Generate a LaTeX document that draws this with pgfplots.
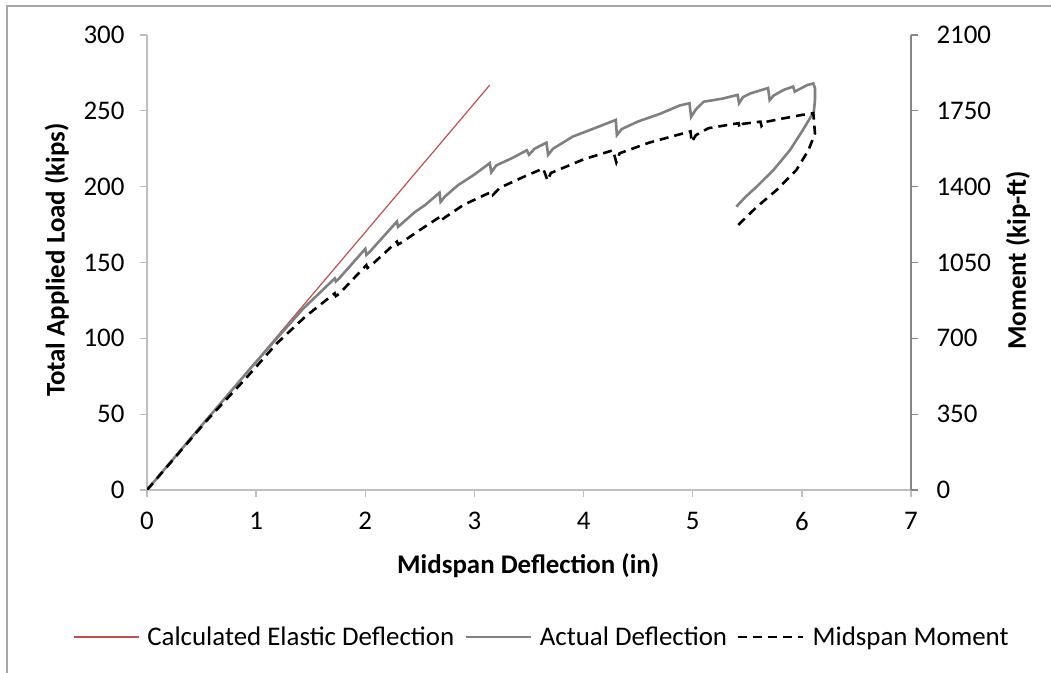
\documentclass[border=0pt]{standalone}
\usepackage{fontspec}
\setmainfont{Carlito}
\usepackage{pgfplots}
\pgfplotsset{compat=1.18}
\definecolor{redline}{HTML}{C0504D}
\definecolor{grayline}{HTML}{808080}
\definecolor{axgray}{HTML}{BFBFBF}
\definecolor{raxgray}{HTML}{868686}
\definecolor{framegray}{HTML}{A6A6A6}
\begin{document}
\begin{tikzpicture}[x=1bp,y=1bp]
\path[use as bounding box] (0,0) rectangle (1051,673);
\draw[framegray, line width=1.5bp] (7,0) -- (7,667) -- (1051,667);
\begin{axis}[
  at={(147bp,183bp)}, anchor=south west,
  scale only axis, width=764bp, height=455bp,
  xmin=0, xmax=7, ymin=0, ymax=300,
  xtick={0,1,...,7}, ytick={0,50,...,300},
  axis x line*=bottom, axis y line*=left,
  axis line style={axgray, line width=1.3bp},
  tick style={axgray, line width=1.3bp},
  tick align=outside, major tick length=7bp,
  ticklabel style={font=\fontsize{27}{32}\selectfont},
  /pgf/number format/assume math mode=true,
  yticklabel style={xshift=-12bp},
  xticklabel style={yshift=-12bp},
  xlabel={Midspan Deflection (in)},
  ylabel={Total Applied Load (kips)},
  label style={font=\fontsize{27}{32}\selectfont\bfseries},
  xlabel style={at={(axis description cs:0.499,-0.167)}, anchor=center},
  ylabel style={at={(axis description cs:-0.118,0.505)}, anchor=center},
  legend columns=3,
  legend style={at={(axis description cs:-0.0969,-0.323)}, anchor=west,
    draw=none, fill=none, inner sep=0pt, font=\fontsize{27}{32}\selectfont,
    /tikz/every odd column/.append style={column sep=6bp},
    /tikz/every even column/.append style={column sep=8bp}},
  legend cell align=left,
  legend image code/.code={\draw[#1] (0bp,0bp) -- (65bp,0bp);},
]
\addplot[redline, line width=1.2bp] coordinates {
(0,0) (0.5,42.5) (1.0,85) (1.5,127.5) (2.0,170) (2.5,212.5) (3.0,255) (3.14,267)
};
\addlegendentry{Calculated Elastic Deflection}
\addplot[grayline, line width=2.6bp] coordinates {
(0,0) (0.5,42.5) (0.94,79.5) (1.19,100) (1.43,119.5)
(1.72,139.5) (1.73,137.5) (1.76,139.5)
(2.0,159) (2.01,155) (2.04,157)
(2.29,177) (2.30,173.5) (2.34,176)
(2.45,183) (2.55,188)
(2.68,196) (2.69,190) (2.73,193.5)
(2.85,201) (3.0,208) (3.14,215.5) (3.155,209.5) (3.20,214)
(3.35,219) (3.48,224) (3.50,221) (3.55,225)
(3.66,229) (3.675,221) (3.72,225)
(3.9,233) (4.1,238.5) (4.295,244) (4.305,234) (4.35,238)
(4.5,243) (4.7,248) (4.88,253.5) (4.97,255) (4.985,246) (5.03,251)
(5.10,256) (5.27,258) (5.41,260.5) (5.425,255) (5.46,259)
(5.53,261.5) (5.69,265) (5.705,257) (5.74,260)
(5.83,263.7) (5.92,266) (5.935,262.6) (5.97,264)
(6.05,267) (6.105,268) (6.12,265) (6.12,257) (6.11,249.5)
(6.01,237.4) (5.89,224) (5.74,211) (5.586,200) (5.48,193) (5.40,186.8)
};
\addlegendentry{Actual Deflection}
\addlegendimage{black, line width=2.6bp, dash pattern=on 9bp off 6bp}
\addlegendentry{Midspan Moment}
\end{axis}
\begin{axis}[
  at={(147bp,183bp)}, anchor=south west,
  scale only axis, width=764bp, height=455bp,
  xmin=0, xmax=7, ymin=0, ymax=2100,
  ytick={0,350,...,2100},
  axis x line=none, axis y line*=right,
  axis line style={raxgray, line width=1.3bp},
  tick style={raxgray, line width=1.3bp},
  tick align=outside, major tick length=7bp,
  ticklabel style={font=\fontsize{27}{32}\selectfont},
  /pgf/number format/assume math mode=true,
  /pgf/number format/1000 sep={},
  yticklabel style={xshift=15bp},
  ylabel={Moment (kip-ft)},
  label style={font=\fontsize{27}{32}\selectfont\bfseries},
  ylabel style={at={(axis description cs:1.140,0.505)}, anchor=center},
]
\addplot[black, line width=2.6bp, dash pattern=on 9bp off 6bp] coordinates {
(0,0) (0.55,322) (0.9,512) (1.19,677) (1.45,800)
(1.72,908) (1.73,895) (1.76,905)
(2.01,1038) (2.02,1025) (2.05,1035)
(2.29,1146) (2.30,1133) (2.34,1145)
(2.5,1200) (2.685,1261) (2.695,1245) (2.73,1258)
(2.9,1316) (3.16,1377) (3.17,1362) (3.234,1395)
(3.45,1445) (3.63,1484) (3.67,1428) (3.70,1463)
(4.0,1526) (4.27,1568) (4.30,1512) (4.33,1554)
(4.6,1603) (4.98,1655) (4.99,1606) (5.03,1638)
(5.145,1670) (5.42,1693) (5.43,1670) (5.46,1690)
(5.62,1700) (5.63,1680) (5.66,1698)
(5.83,1715) (6.0,1731) (6.105,1739)
(6.12,1645) (6.06,1568) (5.95,1477) (5.77,1385) (5.586,1306) (5.40,1215)
};
\end{axis}
\end{tikzpicture}
\end{document}
